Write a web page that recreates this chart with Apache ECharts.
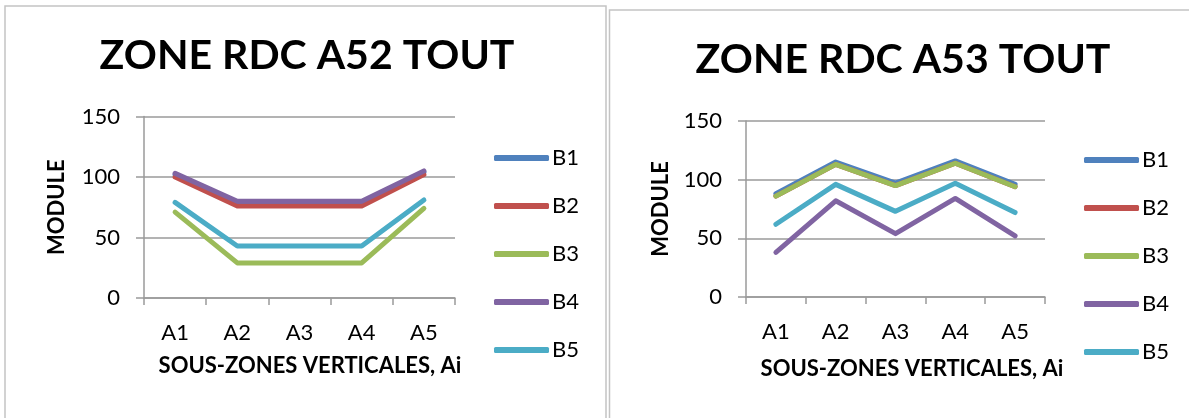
<!DOCTYPE html>
<html>
<head>
<meta charset="utf-8">
<script src="https://cdn.jsdelivr.net/npm/echarts@6/dist/echarts.min.js"></script>
<style>
  html, body { margin: 0; padding: 0; background: #fff; }
  #chart { width: 1189px; height: 418px; }
</style>
</head>
<body>
<div id="chart"></div>
<script>
// Sub-zone categories and tick values shared by both panels
const categories = ['A1', 'A2', 'A3', 'A4', 'A5'];
const yTicks = [0, 50, 100, 150];
const seriesNames = ['B1', 'B2', 'B3', 'B4', 'B5'];
const seriesColors = ['#4F81BD', '#C0504D', '#9BBB59', '#8064A2', '#4BACC6'];

// ZONE RDC A52 TOUT
const a52_B1 = [102, 79, 79, 79, 104];
const a52_B2 = [100, 76, 76, 76, 102];
const a52_B3 = [71, 29, 29, 29, 74];
const a52_B4 = [103, 80, 80, 80, 105];
const a52_B5 = [79, 43, 43, 43, 81];

// ZONE RDC A53 TOUT
const a53_B1 = [88, 115, 97, 116, 96];
const a53_B2 = [86, 113, 95, 114, 94];
const a53_B3 = [86, 113, 95, 114, 94];
const a53_B4 = [38, 82, 54, 84, 52];
const a53_B5 = [62, 96, 73, 97, 72];

const panels = [
  { title: 'ZONE RDC A52 TOUT', data: [a52_B1, a52_B2, a52_B3, a52_B4, a52_B5],
    grid: { left: 144, top: 116.5, width: 311, height: 181.5 },
    titleX: 307, titleY: 56, legendLeft: 494, legendTop: 147, yNameGap: 76, xNameGap: 57, xNameShift: 21 },
  { title: 'ZONE RDC A53 TOUT', data: [a53_B1, a53_B2, a53_B3, a53_B4, a53_B5],
    grid: { left: 746, top: 121, width: 299, height: 176 },
    titleX: 903, titleY: 60, legendLeft: 1084, legendTop: 149, yNameGap: 74, xNameGap: 61, xNameShift: 33 }
];

const FONT = 'Lato, "Open Sans", sans-serif';
const AXIS_GREY = '#9a9a9a';
const TEXT = '#000';

const option = {
  animation: false,
  backgroundColor: '#fff',
  textStyle: { fontFamily: FONT },
  graphic: [
    // panel frames
    { type: 'rect', shape: { x: 5, y: 6, width: 601, height: 430 },
      style: { fill: '#fff', stroke: '#c4c4c4', lineWidth: 1.5 }, z: -10 },
    { type: 'rect', shape: { x: 609.5, y: 10, width: 600, height: 430 },
      style: { fill: '#fff', stroke: '#c4c4c4', lineWidth: 1.5 }, z: -10 }
  ].concat(panels.map(p => ({
    type: 'text', x: p.titleX, y: p.titleY,
    style: { text: p.title, fill: '#000', font: 'bold 41px ' + FONT,
             textAlign: 'center', textVerticalAlign: 'middle' }
  }))),
  grid: panels.map(p => Object.assign({ containLabel: false }, p.grid)),
  legend: panels.map(p => ({
    orient: 'vertical',
    left: p.legendLeft,
    top: p.legendTop,
    itemWidth: 55,
    itemHeight: 6,
    itemGap: 26,
    icon: 'roundRect',
    padding: 0,
    textStyle: { fontFamily: FONT, fontSize: 22, color: TEXT, lineHeight: 22, padding: [0, 0, 0, -2] },
    data: seriesNames
  })),
  xAxis: panels.map((p, i) => ({
    type: 'category',
    gridIndex: i,
    data: categories,
    boundaryGap: true,
    name: 'SOUS-ZONES VERTICALES, Ai',
    nameLocation: 'middle',
    nameGap: p.xNameGap,
    nameTextStyle: { fontFamily: FONT, fontWeight: 'bold', fontSize: 22, color: '#000',
                     padding: [0, 0, 0, p.xNameShift] },
    axisLine: { show: true, lineStyle: { color: AXIS_GREY, width: 1.5 } },
    axisTick: { show: true, length: 7, interval: 0, lineStyle: { color: AXIS_GREY, width: 1.5 } },
    axisLabel: { fontFamily: FONT, fontSize: 22, color: TEXT, margin: 24, interval: 0 },
    splitLine: { show: false }
  })),
  yAxis: panels.map((p, i) => ({
    type: 'value',
    gridIndex: i,
    min: yTicks[0],
    max: yTicks[yTicks.length - 1],
    interval: yTicks[1] - yTicks[0],
    name: 'MODULE',
    nameLocation: 'middle',
    nameRotate: 90,
    nameGap: p.yNameGap,
    nameTextStyle: { fontFamily: FONT, fontWeight: 'bold', fontSize: 22, color: '#000' },
    axisLine: { show: true, lineStyle: { color: AXIS_GREY, width: 1.5 } },
    axisTick: { show: true, length: 8, lineStyle: { color: AXIS_GREY, width: 1.5 } },
    axisLabel: { fontFamily: FONT, fontSize: 22, color: TEXT, margin: 24 },
    splitLine: { show: true, lineStyle: { color: AXIS_GREY, width: 1.5 } }
  })),
  series: []
};

panels.forEach((p, i) => {
  seriesNames.forEach((name, k) => {
    option.series.push({
      type: 'line',
      name: name,
      xAxisIndex: i,
      yAxisIndex: i,
      data: p.data[k],
      symbol: 'none',
      color: seriesColors[k],
      lineStyle: { width: 5, color: seriesColors[k], join: 'round', cap: 'round' }
    });
  });
});

const chart = echarts.init(document.getElementById('chart'));
chart.setOption(option);
</script>
</body>
</html>
